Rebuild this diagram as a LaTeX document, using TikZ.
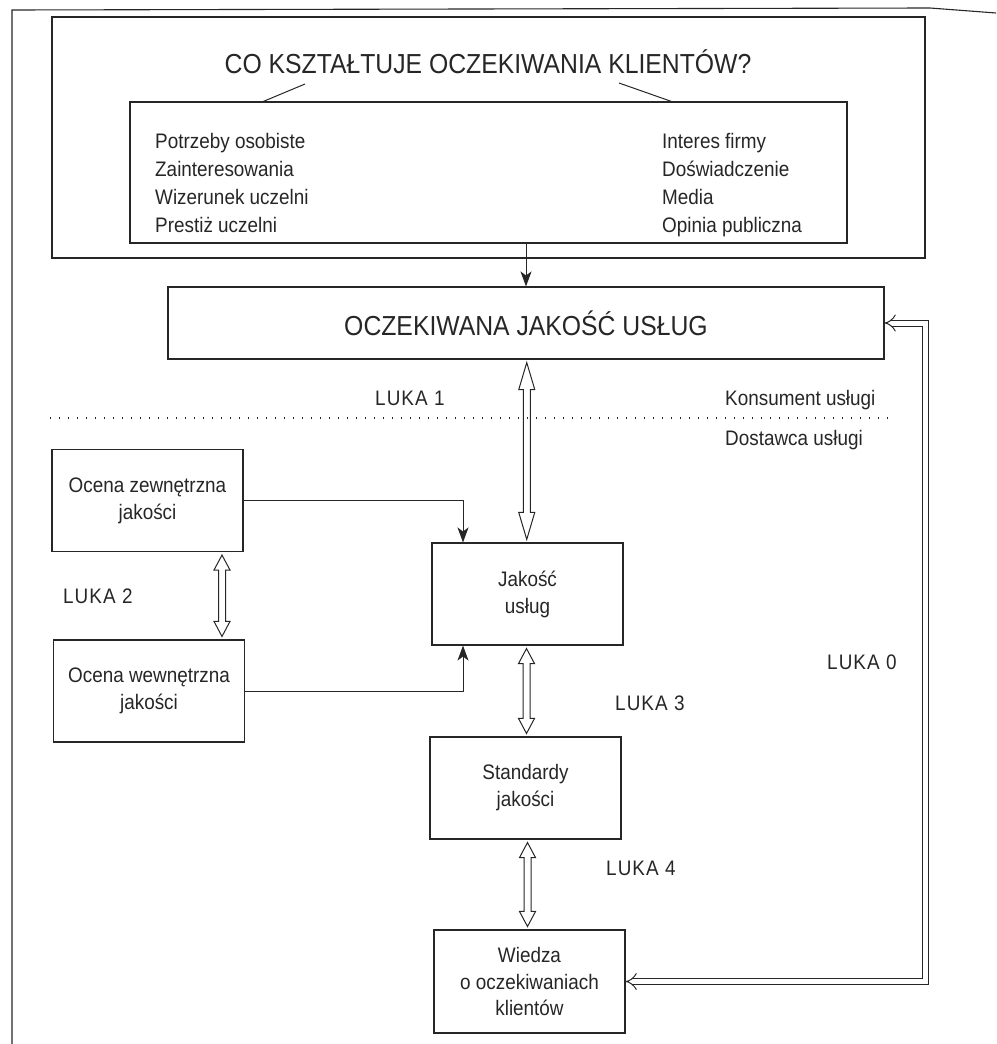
\documentclass[tikz,border=0pt]{standalone}
\usepackage{fontspec}
\setmainfont{Liberation Sans}[FakeStretch=0.9]
\newfontfamily\lukafont{Liberation Sans}[FakeStretch=0.9,LetterSpace=5]
\usetikzlibrary{arrows.meta,calc}
\definecolor{ink}{HTML}{262626}
\newcommand\fsz[2]{\fontsize{#1}{#2}\selectfont}
% hollow vertical double-headed arrow between two points
\newcommand\hollowv[3][15]{%
  \draw[hollow] let \p1=(#2), \p2=(#3), \n1={0.5*(\x1+\x2)} in
    (\n1,\y1-3pt) -- (\n1+8pt,\y1-3pt-#1pt) -- (\n1+3.5pt,\y1-3pt-#1pt)
    -- (\n1+3.5pt,\y2+3pt+#1pt) -- (\n1+8pt,\y2+3pt+#1pt) -- (\n1,\y2+3pt)
    -- (\n1-8pt,\y2+3pt+#1pt) -- (\n1-3.5pt,\y2+3pt+#1pt)
    -- (\n1-3.5pt,\y1-3pt-#1pt) -- (\n1-8pt,\y1-3pt-#1pt) -- cycle;}
\begin{document}
\begin{tikzpicture}[x=1pt,y=-1pt,
  every node/.style={inner sep=0pt, text=ink},
  frame/.style={draw=ink, line width=1.1pt},
  box/.style={draw=ink, line width=1.1pt, minimum width=191pt, minimum height=102pt,
    align=center, font=\fsz{21}{27}},
  txt/.style={anchor=base west, font=\fsz{21}{28}},
  luka/.style={anchor=base west, font=\lukafont\fsz{21}{28}},
  hollow/.style={draw=ink, line width=1pt, line join=miter},
  feed/.style={draw=ink, line width=1pt, -{Stealth[length=15pt,width=11pt,inset=4pt]}},
  dbl/.style={draw=ink, line width=1pt, double=white, double distance=5pt,
    {Implies}-{Implies}},
  dots/.style={draw=ink, line width=1.3pt, dash pattern=on 1.3pt off 7.7pt}]
\useasboundingbox (0,0) rectangle (996,1044);
% page frame
\coordinate (fa) at (12,1044);
\coordinate (fb) at (12,10);
\coordinate (fc) at (930,8);
\coordinate (fd) at (996,13);
\draw[frame] (fa) -- (fb) -- (fc) -- (fd);
% top block
\node[frame, minimum width=873pt, minimum height=241pt] (topbox) at (488.5,137.5) {};
\node[anchor=base, font=\fsz{27.5}{30}] (title) at (488,73) {CO KSZTAŁTUJE OCZEKIWANIA KLIENTÓW?};
\node[frame, minimum width=717pt, minimum height=141pt] (inner) at (488.5,172.5) {};
\coordinate (la) at (305,84);
\coordinate (lb) at (262,102);
\coordinate (ra) at (619,83);
\coordinate (rb) at (673,102);
\draw[ink, line width=1pt] (la) -- (lb);
\draw[ink, line width=1pt] (ra) -- (rb);
\node[txt] (p1) at (155,148) {Potrzeby osobiste};
\node[txt] (p2) at (155,176) {Zainteresowania};
\node[txt] (p3) at (155,204) {Wizerunek uczelni};
\node[txt] (p4) at (155,232) {Prestiż uczelni};
\node[txt] (q1) at (662,148) {Interes firmy};
\node[txt] (q2) at (662,176) {Doświadczenie};
\node[txt] (q3) at (662,204) {Media};
\node[txt] (q4) at (662,232) {Opinia publiczna};
% expected quality
\node[frame, minimum width=716pt, minimum height=72pt, font=\fsz{27.5}{30}] (ocz) at (526,323) {OCZEKIWANA JAKOŚĆ USŁUG};
\draw[feed] (inner.south -| ocz.north) -- (ocz.north);
% divider
\coordinate (da) at (50,418);
\coordinate (db) at (893,418);
\draw[dots] (da) -- (db);
\node[luka] (l1) at (375,405) {LUKA 1};
\node[txt] (kons) at (725,405) {Konsument usługi};
\node[txt] (dost) at (725,445) {Dostawca usługi};
% provider boxes
\node[box] (zew) at (147.5,500.5) {Ocena zewnętrzna\\jakości};
\node[box] (wew) at (149,691) {Ocena wewnętrzna\\jakości};
\node[box] (jak) at (527.5,594) {Jakość\\usług};
\node[box] (sta) at (525.5,788) {Standardy\\jakości};
\node[box, font=\fsz{21}{26.5}, minimum height=103pt] (wie) at (529.5,981.5) {Wiedza\\o oczekiwaniach\\klientów};
\node[luka] (l2) at (63,603) {LUKA 2};
\node[luka] (l3) at (615,710) {LUKA 3};
\node[luka] (l4) at (606,875) {LUKA 4};
\node[luka] (l0) at (827,669) {LUKA 0};
% feeds into service quality
\coordinate (jx) at (463,0);
\draw[feed] (zew.east) -| (jx |- jak.north);
\draw[feed] (wew.east) -| (jx |- jak.south);
% gaps
\hollowv[27]{ocz.south}{jak.north}
\hollowv{[xshift=74.5pt]zew.south}{[xshift=74.5pt]zew.south |- wew.north}
\hollowv{jak.south}{sta.north}
\hollowv{sta.south}{wie.north}
% gap 0 return path
\coordinate (rx) at (925.5,0);
\draw[dbl] (wie.east) -- (wie.east -| rx) -- (ocz.east -| rx) -- (ocz.east);
\end{tikzpicture}
\end{document}
